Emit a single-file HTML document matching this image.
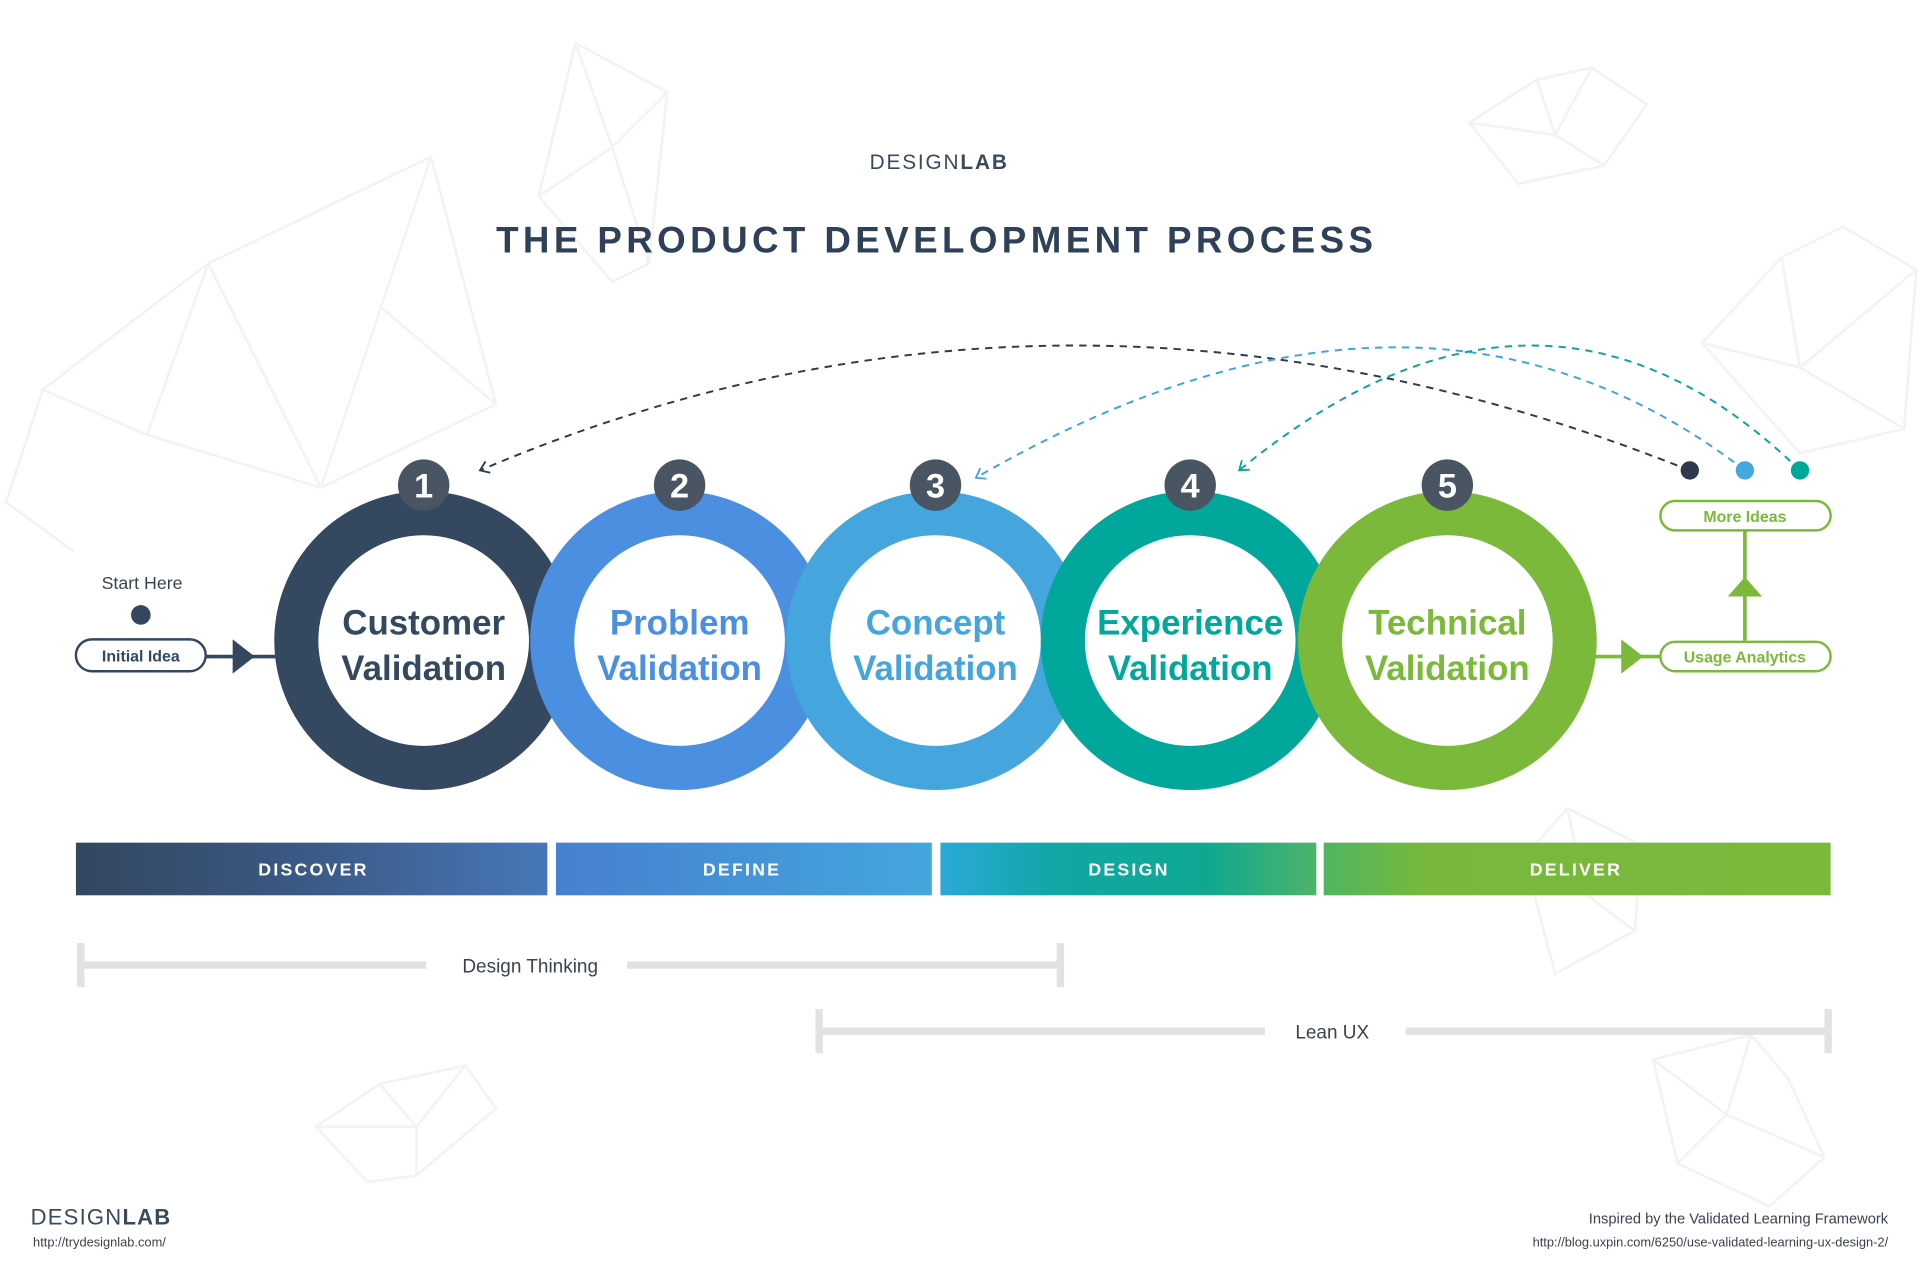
<!DOCTYPE html>
<html><head><meta charset="utf-8"><style>
html,body{margin:0;padding:0;background:#fff;}
svg{display:block;}
text{font-family:"Liberation Sans",sans-serif;}
</style></head><body>
<svg width="1920" height="1280" viewBox="0 0 1568 1045" xmlns="http://www.w3.org/2000/svg">
<defs>
<linearGradient id="g1" x1="0" x2="1"><stop offset="0" stop-color="#33475f"/><stop offset="0.5" stop-color="#3b5a86"/><stop offset="1" stop-color="#4777b8"/></linearGradient>
<linearGradient id="g2" x1="0" x2="1"><stop offset="0" stop-color="#4680cf"/><stop offset="1" stop-color="#44a6dd"/></linearGradient>
<linearGradient id="g3" x1="0" x2="1"><stop offset="0" stop-color="#2aa8d8"/><stop offset="0.3" stop-color="#10a7a6"/><stop offset="0.7" stop-color="#0ea892"/><stop offset="1" stop-color="#4db36a"/></linearGradient>
<linearGradient id="g4" x1="0" x2="1"><stop offset="0" stop-color="#4fb562"/><stop offset="0.2" stop-color="#77b83c"/><stop offset="1" stop-color="#7ab93a"/></linearGradient>
<marker id="ahd" markerWidth="12" markerHeight="12" refX="10" refY="6" orient="auto" markerUnits="userSpaceOnUse"><path d="M3,1 L10,6 L3,11" fill="none" stroke-width="1.5" stroke="#2f3b4c"/></marker>
<marker id="ahb" markerWidth="12" markerHeight="12" refX="10" refY="6" orient="auto" markerUnits="userSpaceOnUse"><path d="M3,1 L10,6 L3,11" fill="none" stroke-width="1.5" stroke="#3ea6dc"/></marker>
<marker id="aht" markerWidth="12" markerHeight="12" refX="10" refY="6" orient="auto" markerUnits="userSpaceOnUse"><path d="M3,1 L10,6 L3,11" fill="none" stroke-width="1.5" stroke="#0aa59a"/></marker>
</defs>
<g fill="none" stroke="#f3f3f3" stroke-width="2.2">
<path d="M35,318 L170,215 L352,128 L405,330 L262,398 L120,355 Z M170,215 L120,355 L35,318 L5,410 L60,450 M352,128 L262,398 M170,215 L262,398 M405,330 L310,250"/>
<path d="M470,35 L545,75 L530,215 L500,230 L440,160 Z M470,35 L500,120 L545,75 M500,120 L440,160 M500,120 L530,215"/>
<path d="M1200,100 L1255,65 L1300,55 L1345,85 L1310,135 L1240,150 Z M1255,65 L1270,110 L1310,135 M1270,110 L1200,100 M1270,110 L1300,55"/>
<path d="M1390,280 L1455,210 L1505,185 L1565,220 L1555,350 L1470,370 Z M1455,210 L1470,300 L1565,220 M1470,300 L1390,280 M1470,300 L1555,350"/>
<path d="M258,920 L310,885 L380,870 L405,905 L340,960 L300,965 Z M310,885 L340,920 L380,870 M340,920 L258,920 M340,920 L340,960"/>
<path d="M1350,865 L1430,845 L1460,880 L1490,945 L1445,985 L1370,950 Z M1430,845 L1410,910 L1490,945 M1410,910 L1350,865 M1410,910 L1370,950"/>
<path d="M1245,700 L1280,660 L1340,690 L1335,760 L1270,795 Z M1280,660 L1295,730 L1335,760 M1295,730 L1245,700"/>
</g>
<text x="767" y="138" text-anchor="middle" font-size="17" fill="#3a4a5c" letter-spacing="1.5">DESIGN<tspan font-weight="bold">LAB</tspan></text>
<text x="765" y="206" text-anchor="middle" font-size="30" font-weight="bold" fill="#2f4158" letter-spacing="3.6">THE PRODUCT DEVELOPMENT PROCESS</text>
<path d="M1380,384 Q870,180 392,384" fill="none" stroke="#2f3b4c" stroke-width="1.6" stroke-dasharray="6,5" marker-end="url(#ahd)"/>
<path d="M1425,384 Q1160,180 797,390" fill="none" stroke="#3ea6dc" stroke-width="1.6" stroke-dasharray="6,5" marker-end="url(#ahb)"/>
<path d="M1470,384 Q1260,180 1012,384" fill="none" stroke="#0aa59a" stroke-width="1.6" stroke-dasharray="6,5" marker-end="url(#aht)"/>
<circle cx="1380" cy="384" r="7.5" fill="#2f3b4c"/>
<circle cx="1425" cy="384" r="7.5" fill="#44a8df"/>
<circle cx="1470" cy="384" r="7.5" fill="#00a89a"/>
<text x="116" y="481" text-anchor="middle" font-size="14.5" fill="#3a4350">Start Here</text>
<circle cx="115" cy="502" r="8" fill="#33475f"/>
<rect x="62" y="522" width="106" height="26" rx="13" fill="#fff" stroke="#33475f" stroke-width="2"/>
<text x="115" y="540" text-anchor="middle" font-size="13" font-weight="bold" fill="#33475f">Initial Idea</text>
<line x1="168" y1="536" x2="228" y2="536" stroke="#33475f" stroke-width="3"/>
<path d="M190,522 L208,536 L190,550 Z" fill="#33475f"/>
<g>
<circle cx="346" cy="523" r="104" fill="#fff" stroke="#34495f" stroke-width="36"/>
<circle cx="555" cy="523" r="104" fill="#fff" stroke="#4a8fe0" stroke-width="36"/>
<circle cx="764" cy="523" r="104" fill="#fff" stroke="#45a6dd" stroke-width="36"/>
<circle cx="972" cy="523" r="104" fill="#fff" stroke="#00a79a" stroke-width="36"/>
<circle cx="1182" cy="523" r="104" fill="#fff" stroke="#7ab93a" stroke-width="36"/>
</g>
<g font-size="28.5" font-weight="bold" text-anchor="middle">
<text x="346" y="518" fill="#34495f">Customer</text><text x="346" y="555" fill="#34495f">Validation</text>
<text x="555" y="518" fill="#4a8fe0">Problem</text><text x="555" y="555" fill="#4a8fe0">Validation</text>
<text x="764" y="518" fill="#45a6dd">Concept</text><text x="764" y="555" fill="#45a6dd">Validation</text>
<text x="972" y="518" fill="#00a79a">Experience</text><text x="972" y="555" fill="#00a79a">Validation</text>
<text x="1182" y="518" fill="#7ab93a">Technical</text><text x="1182" y="555" fill="#7ab93a">Validation</text>
</g>
<g fill="#4a5563">
<circle cx="346" cy="396" r="21"/><circle cx="555" cy="396" r="21"/><circle cx="764" cy="396" r="21"/><circle cx="972" cy="396" r="21"/><circle cx="1182" cy="396" r="21"/>
</g>
<g font-size="28" font-weight="bold" fill="#fff" text-anchor="middle">
<text x="346" y="406">1</text><text x="555" y="406">2</text><text x="764" y="406">3</text><text x="972" y="406">4</text><text x="1182" y="406">5</text>
</g>
<line x1="1300" y1="536" x2="1357" y2="536" stroke="#7ab93a" stroke-width="3"/>
<path d="M1324,522 L1342,536 L1324,550 Z" fill="#7ab93a"/>
<line x1="1425" y1="432" x2="1425" y2="523" stroke="#7ab93a" stroke-width="3"/>
<path d="M1411,487 L1425,471 L1439,487 Z" fill="#7ab93a"/>
<rect x="1356" y="409" width="139" height="24" rx="12" fill="#fff" stroke="#7ab93a" stroke-width="2"/>
<text x="1425" y="426" text-anchor="middle" font-size="13" font-weight="bold" fill="#7ab93a">More Ideas</text>
<rect x="1356" y="524" width="139" height="24" rx="12" fill="#fff" stroke="#7ab93a" stroke-width="2"/>
<text x="1425" y="541" text-anchor="middle" font-size="13" font-weight="bold" fill="#7ab93a">Usage Analytics</text>
<rect x="62" y="688" width="385" height="43" fill="url(#g1)"/>
<rect x="454" y="688" width="307" height="43" fill="url(#g2)"/>
<rect x="768" y="688" width="307" height="43" fill="url(#g3)"/>
<rect x="1081" y="688" width="414" height="43" fill="url(#g4)"/>
<g font-size="14.5" font-weight="bold" fill="#fff" text-anchor="middle" letter-spacing="1.8">
<text x="256" y="715">DISCOVER</text><text x="606" y="715">DEFINE</text><text x="922" y="715">DESIGN</text><text x="1287" y="715">DELIVER</text>
</g>
<g stroke="#e2e2e2" stroke-width="6" fill="none">
<path d="M66,770 V806 M866,770 V806 M66,788 H348 M512,788 H866"/>
<path d="M669,824 V860 M1493,824 V860 M669,842 H1033 M1148,842 H1493"/>
</g>
<text x="433" y="794" text-anchor="middle" font-size="15.5" fill="#3a4350">Design Thinking</text>
<text x="1088" y="848" text-anchor="middle" font-size="15.5" fill="#3a4350">Lean UX</text>
<text x="25" y="1000" font-size="18" fill="#3a4a5c" letter-spacing="1">DESIGN<tspan font-weight="bold">LAB</tspan></text>
<text x="27" y="1018" font-size="10.5" fill="#3a4350">http://trydesignlab.com/</text>
<text x="1542" y="999" text-anchor="end" font-size="12" fill="#3a4350">Inspired by the Validated Learning Framework</text>
<text x="1542" y="1018" text-anchor="end" font-size="10.5" fill="#3a4350">http://blog.uxpin.com/6250/use-validated-learning-ux-design-2/</text>
</svg>
</body></html>
